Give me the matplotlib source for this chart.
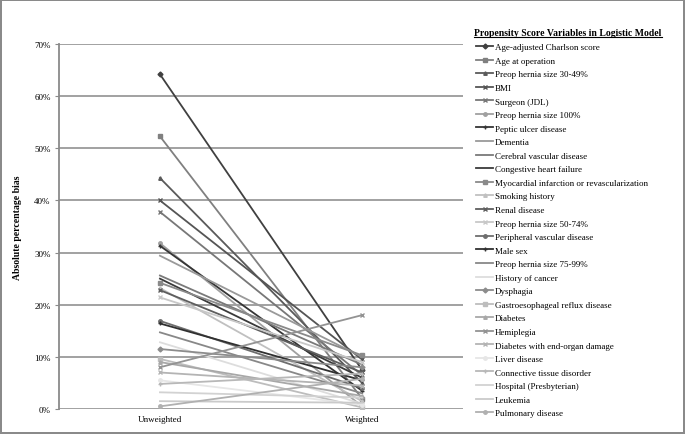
import matplotlib
matplotlib.use("Agg")
import matplotlib.pyplot as plt
from matplotlib.lines import Line2D

plt.rcParams['font.family'] = ['Liberation Serif', 'DejaVu Serif']

groups = ["Unweighted", "Weighted"]

variables = [
    "Age-adjusted Charlson score", "Age at operation", "Preop hernia size 30-49%", "BMI",
    "Surgeon (JDL)", "Preop hernia size 100%", "Peptic ulcer disease", "Dementia",
    "Cerebral vascular disease", "Congestive heart failure",
    "Myocardial infarction or revascularization", "Smoking history", "Renal disease",
    "Preop hernia size 50-74%", "Peripheral vascular disease", "Male sex",
    "Preop hernia size 75-99%", "History of cancer", "Dysphagia",
    "Gastroesophageal reflux disease", "Diabetes", "Hemiplegia",
    "Diabetes with end-organ damage", "Liver disease", "Connective tissue disorder",
    "Hospital (Presbyterian)", "Leukemia", "Pulmonary disease",
]

# absolute percentage bias (%), before and after weighting
unweighted = [64.2, 52.3, 44.3, 40.0, 37.8, 31.8, 31.3, 29.4, 25.6, 25.0,
              24.2, 23.2, 22.8, 21.4, 16.9, 16.4, 14.7, 12.8, 11.5, 9.6,
              9.0, 8.0, 7.0, 5.5, 4.8, 3.2, 1.5, 0.5]
weighted = [7.5, 2.0, 5.0, 9.5, 6.5, 0.5, 3.5, 10.0, 8.5, 6.0,
            10.3, 1.5, 7.0, 9.0, 4.0, 5.5, 3.0, 1.0, 8.0, 0.3,
            2.5, 18.0, 4.5, 0.8, 6.8, 2.2, 1.2, 5.8]

colors = ["#404040", "#808080", "#5a5a5a", "#555555", "#777777", "#a0a0a0", "#353535",
          "#9a9a9a", "#7a7a7a", "#3a3a3a", "#8a8a8a", "#c0c0c0", "#5e5e5e", "#c8c8c8",
          "#6e6e6e", "#303030", "#888888", "#dddddd", "#8c8c8c", "#bdbdbd", "#a8a8a8",
          "#939393", "#b4b4b4", "#e6e6e6", "#b8b8b8", "#d2d2d2", "#cacaca", "#b0b0b0"]
markers = ["D", "s", "^", "x", "x", "o", "+", "", "", "", "s", "^", "x", "x", "o", "+",
           "", "", "D", "s", "^", "x", "x", "o", "+", "", "", "o"]

fig = plt.figure(figsize=(6.85, 4.35), dpi=100)
fig.patch.set_edgecolor("#8a8a8a")
fig.patch.set_linewidth(1.5)
ax = fig.add_axes([0.086, 0.0575, 0.590, 0.839])

handles = []
for name, u, w, c, m in zip(variables, unweighted, weighted, colors, markers):
    ax.plot([0, 1], [u / 100, w / 100], color=c, lw=1.3, marker=m if m else None,
            markersize=2.5, markeredgewidth=1)
    handles.append(Line2D([], [], color=c, lw=1.3, marker=m if m else None,
                          markersize=2.5, markeredgewidth=1, label=name))

ax.set_xlim(-0.5, 1.5)
ax.set_ylim(0, 0.70)
ax.set_xticks([0, 1])
ax.set_xticklabels(groups, fontsize=6.5)
ax.set_yticks([i / 10 for i in range(8)])
ax.set_yticklabels([f"{i * 10}%" for i in range(8)], fontsize=6.5)
ax.tick_params(axis="x", length=0, pad=4)
ax.tick_params(axis="y", length=3, color="#8a8a8a", pad=3)
ax.yaxis.grid(True, color="#9a9a9a", lw=1.3)
ax.set_axisbelow(True)
for s in ["top", "right", "bottom"]:
    ax.spines[s].set_visible(False)
ax.spines["left"].set_color("#8a8a8a")
ax.spines["left"].set_linewidth(1.3)
ax.set_ylabel("Absolute percentage bias", fontsize=7, fontweight="bold", labelpad=9)

fig.text(474 / 685, 1 - 33 / 435, "Propensity Score Variables in Logistic Model",
         fontsize=7, fontweight="bold", va="center", ha="left")
fig.add_artist(Line2D([474 / 685, 662 / 685], [1 - 38 / 435, 1 - 38 / 435],
                      color="black", lw=0.8))

fig.legend(handles=handles, loc="upper left", bbox_to_anchor=(476 / 685, 1 - 44 / 435),
           frameon=False, fontsize=6.5, handlelength=1.9, handletextpad=0.2,
           labelspacing=0.58, borderaxespad=0, borderpad=0)

fig.savefig("out.png", dpi=100)
